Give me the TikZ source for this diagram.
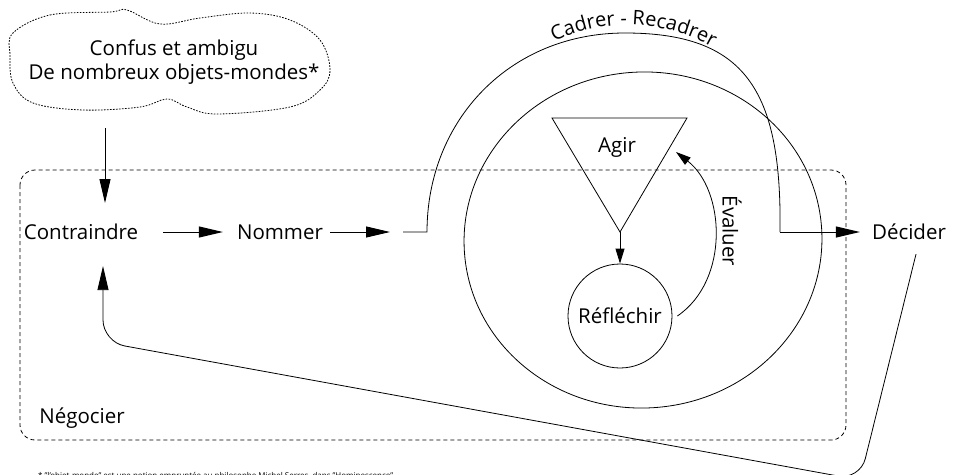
\documentclass[tikz,border=0pt]{standalone}
\usepackage{fontspec}
\setmainfont{Open Sans}
\usetikzlibrary{arrows.meta,decorations.text,calc}

\tikzset{
  lbl/.style={inner sep=0pt, font=\fontsize{20.5}{24}\selectfont},
  lin/.style={line width=0.8pt},
  arr/.style={-{Triangle[length=24pt,width=11pt]}, line width=1pt},
  petitarr/.style={-{Triangle[length=15pt,width=9pt]}, line width=0.8pt},
  pointille/.style={line width=0.8pt, dash pattern=on 1.6pt off 1.4pt},
  tirets/.style={line width=0.8pt, dash pattern=on 4pt off 3pt},
}

\begin{document}
\begin{tikzpicture}[x=1pt,y=1pt]
  \useasboundingbox (0,0) rectangle (966,-474);
  \clip (0,0) rectangle (966,-474);

  % nuage
  \draw[pointille] plot[smooth cycle, tension=0.6] coordinates {
    (13,-33) (50,-15) (110,-12) (127,-10) (160,-24) (200,-18) (250,-13)
    (290,-20) (320,-40) (330,-70) (320,-90) (290,-107) (217,-114)
    (187,-107) (167,-99) (140,-107) (83,-110) (33,-103) (13,-83) (10,-55)};
  \node[lbl, align=center] (nuage) at (174,-62) {Confus et ambigu\\De nombreux objets-mondes*};
  \coordinate (nuagebas) at (105,-128);

  % negocier
  \draw[tirets, rounded corners=15pt] (20,-170) rectangle (846,-440);
  \node[lbl] (neg) at (82,-418) {Négocier};

  % chaine
  \node[lbl] (contr) at (81,-232) {Contraindre};
  \node[lbl] (nom) at (280,-232) {Nommer};
  \node[lbl] (dec) at (909,-232) {Décider};
  \coordinate (entree) at (390,-232);
  \coordinate (cadreg) at (427,-232);
  \coordinate (cadred) at (780,-232);

  \draw[arr] (nuagebas) -- (nuagebas |- 0,-203);
  \draw[arr] ([xshift=25pt]contr.east) -- ([xshift=-14pt]nom.west);
  \draw[arr] ([xshift=7pt]nom.east) -- (entree);
  \draw[lin] ([xshift=13pt]entree) -- (cadreg)
    .. controls (427,-120) and (510,-33) .. (625,-33)
    .. controls (745,-33) and (782,-90) .. (cadred);
  \draw[arr] (cadred) -- ([xshift=-12pt]dec.west);
  \path[decorate, decoration={text along path, text align=center,
      text={|\fontsize{20}{24}\selectfont|Cadrer - Recadrer}}]
    (628,-195) ++(122:170) arc[start angle=122, end angle=54, radius=170];

  % boucle interne
  \draw[lin, rotate around={3.6:(643,-240)}] (643,-240) ellipse[x radius=179, y radius=168];
  \draw[lin] (552,-118) -- (687,-118) -- (620,-232) -- cycle;
  \coordinate (pointe) at (620,-232);
  \node[lbl] (agir) at (617,-147) {Agir};
  \node[lbl, circle, draw, line width=0.8pt, minimum size=104pt] (refl) at (620,-316) {Réfléchir};
  \coordinate (evalfin) at (676,-152);
  \draw[petitarr] (pointe) -- (refl.north);
  \draw[petitarr] ([xshift=5pt]refl.east) .. controls (730,-280) and (725,-190) .. (evalfin);
  \node[lbl, rotate=-90] (eval) at (732,-231) {Évaluer};

  % retour
  \coordinate (ret1) at (860,-480);
  \coordinate (ret2) at (103,-342);
  \draw[arr, line width=0.8pt, rounded corners=22pt] ([shift={(7pt,-14pt)}]dec.south)
    -- (ret1) -- (ret2) -- ([yshift=-26pt]contr.south -| ret2);

  % note
  \node[anchor=base west, inner sep=0pt, font=\fontsize{8}{9}\selectfont] (note) at (38,-478)
    {* "l'objet-monde" est une notion empruntée au philosophe Michel Serres, dans "Hominescence"};
\end{tikzpicture}
\end{document}
